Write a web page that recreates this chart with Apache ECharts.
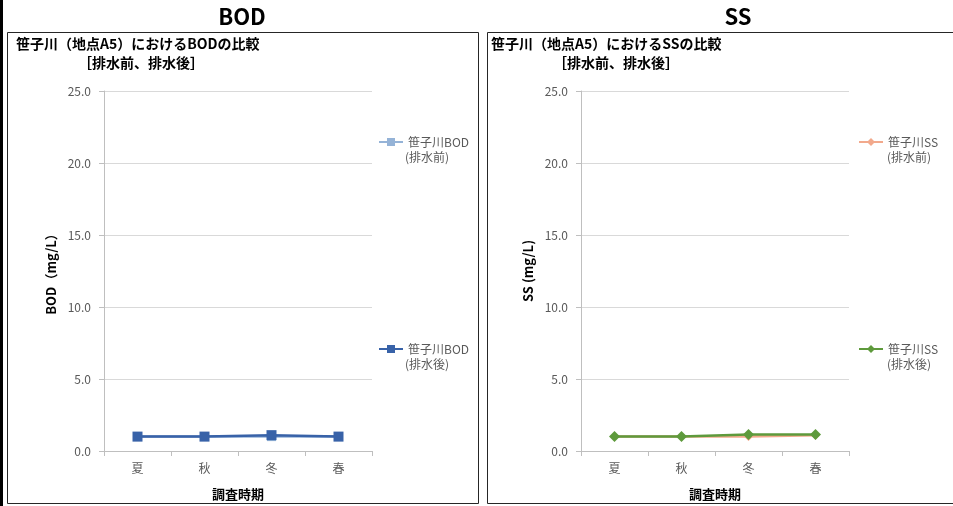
<!DOCTYPE html>
<html><head><meta charset="utf-8">
<script src="https://cdn.jsdelivr.net/npm/echarts@6/dist/echarts.min.js"></script>
<style>html,body{margin:0;padding:0;background:#fff}#c{width:953px;height:506px}</style>
</head><body><div id="c"></div>
<script>
const categories = ['夏','秋','冬','春'];
const bodBefore = [1.0, 1.0, 1.0, 1.0];
const bodAfter = [1.0, 1.0, 1.1, 1.0];
const ssBefore = [1.0, 1.0, 1.0, 1.1];
const ssAfter = [1.0, 1.0, 1.15, 1.15];
const yTicks = [0, 5, 10, 15, 20, 25];

const FONT = '"Noto Sans CJK JP", "Noto Sans", sans-serif';
const chart = echarts.init(document.getElementById('c'));

function yAxis(gi, name) {
  return {
    type: 'value', gridIndex: gi, min: yTicks[0], max: yTicks[yTicks.length-1], interval: yTicks[1]-yTicks[0],
    name: name, nameLocation: 'middle', nameGap: 46,
    nameTextStyle: {fontFamily: FONT, fontWeight: 'bold', fontSize: 13, color: '#000'},
    axisLine: {show: true, lineStyle: {color: '#bfbfbf'}},
    axisTick: {show: true, length: 5, lineStyle: {color: '#bfbfbf'}},
    axisLabel: {formatter: v => v.toFixed(1), color: '#595959', fontSize: 12, fontFamily: FONT, margin: 13},
    splitLine: {lineStyle: {color: '#d9d9d9'}}
  };
}
function xAxis(gi) {
  return {
    type: 'category', gridIndex: gi, data: categories, boundaryGap: true,
    name: '調査時期', nameLocation: 'middle', nameGap: 37,
    nameTextStyle: {fontFamily: FONT, fontWeight: 'bold', fontSize: 13, color: '#000'},
    axisLine: {lineStyle: {color: '#bfbfbf'}},
    axisTick: {show: true, length: 5, lineStyle: {color: '#bfbfbf'}},
    axisLabel: {color: '#595959', fontSize: 12, fontFamily: FONT, margin: 11}
  };
}
function series(name, data, gi, color, symbol, size, z) {
  return {
    name: name, type: 'line', data: data, xAxisIndex: gi, yAxisIndex: gi,
    symbol: symbol, symbolSize: size, showSymbol: true, z: z,
    itemStyle: {color: color}, lineStyle: {color: color, width: 2.5}, animation: false
  };
}
function legend(name, left, top) {
  return {
    data: [name], left: left, top: top, orient: 'vertical', itemWidth: 24, itemHeight: 10, itemGap: 4,
    padding: 0, selectedMode: false,
    formatter: n => n.split('(')[0],
    textStyle: {color: '#595959', fontSize: 12, fontFamily: FONT, padding: [0,0,0,0]}
  };
}

chart.setOption({
  animation: false,
  grid: [
    {left: 104, top: 91, width: 268, height: 360},
    {left: 581, top: 91, width: 268, height: 360}
  ],
  xAxis: [xAxis(0), xAxis(1)],
  yAxis: [yAxis(0, 'BOD（mg/L）'), yAxis(1, 'SS (mg/L)')],
  legend: [
    legend('笹子川BOD(排水前)', 378, 136),
    legend('笹子川BOD(排水後)', 378, 343),
    legend('笹子川SS(排水前)', 858, 136),
    legend('笹子川SS(排水後)', 858, 343)
  ],
  series: [
    series('笹子川BOD(排水前)', bodBefore, 0, '#95b3d7', 'rect', 9, 2),
    series('笹子川BOD(排水後)', bodAfter, 0, '#3862a8', 'rect', 10, 3),
    series('笹子川SS(排水前)', ssBefore, 1, '#f2a98c', 'diamond', 9, 2),
    series('笹子川SS(排水後)', ssAfter, 1, '#5e9a3c', 'diamond', 11, 3)
  ],
  graphic: [
    {type: 'rect', shape: {x: 0, y: 0, width: 3, height: 506}, style: {fill: '#000'}},
    {type: 'rect', shape: {x: 7.5, y: 32.5, width: 471, height: 471}, style: {fill: 'none', stroke: '#262626', lineWidth: 1}},
    {type: 'rect', shape: {x: 487.5, y: 32.5, width: 475, height: 471}, style: {fill: 'none', stroke: '#262626', lineWidth: 1}},
    {type: 'text', x: 242, y: 6, style: {text: 'BOD', font: 'bold 22px ' + FONT, fill: '#000', textAlign: 'center'}},
    {type: 'text', x: 738, y: 6, style: {text: 'SS', font: 'bold 22px ' + FONT, fill: '#000', textAlign: 'center'}},
    {type: 'text', x: 16, y: 37, style: {text: '笹子川（地点A5）におけるBODの比較', font: 'bold 14px ' + FONT, fill: '#000'}},
    {type: 'text', x: 78, y: 56, style: {text: '［排水前、排水後］', font: 'bold 14px ' + FONT, fill: '#000'}},
    {type: 'text', x: 491, y: 37, style: {text: '笹子川（地点A5）におけるSSの比較', font: 'bold 14px ' + FONT, fill: '#000'}},
    {type: 'text', x: 553, y: 56, style: {text: '［排水前、排水後］', font: 'bold 14px ' + FONT, fill: '#000'}},
    {type: 'text', x: 405, y: 151, style: {text: '(排水前)', font: '12px ' + FONT, fill: '#595959'}},
    {type: 'text', x: 405, y: 358, style: {text: '(排水後)', font: '12px ' + FONT, fill: '#595959'}},
    {type: 'text', x: 887, y: 151, style: {text: '(排水前)', font: '12px ' + FONT, fill: '#595959'}},
    {type: 'text', x: 887, y: 358, style: {text: '(排水後)', font: '12px ' + FONT, fill: '#595959'}}
  ]
});
</script></body></html>
